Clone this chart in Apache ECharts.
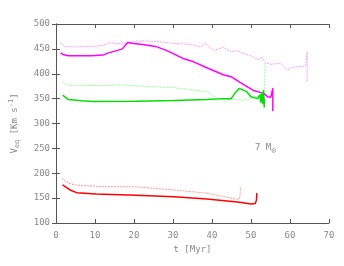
<!DOCTYPE html>
<html><head><meta charset="utf-8">
<script src="https://cdn.jsdelivr.net/npm/echarts@6/dist/echarts.min.js"></script>
<style>html,body{margin:0;padding:0;background:#fff}#c{width:344px;height:266px}</style>
</head><body><div id="c"></div>
<script>
var xTicks = [0,10,20,30,40,50,60,70];
var yTicks = [100,150,200,250,300,350,400,450,500];

var magSolid = [[1.2,442],[2,438],[3.2,436],[6,436],[9,436],[12,437.5],[13.5,442],[15.8,447],[17,450],[18.4,463],[20,461],[22.2,459],[25.5,455],[28,448],[30.2,440],[32.8,430],[35.3,424],[38.7,412],[42.9,398],[44.9,394],[47.1,383],[50.5,367],[53.4,360],[54.2,354],[55.1,353],[55.6,355],[55.6,371],[55.6,325]];
var magDashed = [[1,462],[2.3,455],[5,454],[9.6,455],[12,457],[13.7,462],[17.1,460],[20.5,465.5],[23,466],[27,464],[30.2,461],[33,460],[35,458],[37,454],[38.3,461],[40.4,447],[42.9,453],[45,444],[46,447],[48,441],[50.5,434],[52.1,428],[52.9,434],[53.6,422],[55.1,419],[57.6,421],[59.4,407],[60.6,413],[62,414],[64,416],[64.4,444],[64.4,384]];
var grnSolid = [[1.7,357],[3.2,348],[6.6,345.5],[9.6,344],[20.5,344.5],[30.2,346],[38.7,348],[42.9,350],[44.9,350],[46.2,364],[47,370.5],[48.9,364],[50,353.6],[51.7,350],[52.3,358],[52.5,342],[52.8,362],[53,340],[53.2,367],[53.4,332],[53.4,350]];
var grnDashed = [[1.5,384],[3.2,377],[12,376],[16.2,377.5],[22.2,375],[30.2,372],[35,368],[38.7,364],[41.2,351],[45.4,348],[48,347],[49.7,350],[51.8,354],[52.8,341],[53.3,351],[53.5,390],[53.7,424]];
var redSolid = [[1.7,176.5],[3.6,166.4],[5.3,161],[10.3,158.4],[20.5,155.8],[30.2,153],[38.7,148.4],[47.1,141.7],[50,138],[51.1,139],[51.4,146],[51.5,160]];
var redDashed = [[1.5,190],[3.2,180],[5.3,176],[12,173.3],[20.5,172.7],[30.2,166.4],[38.7,160],[46.3,148],[46.9,147.5],[47.2,155],[47.3,172.5]];

var font = 'DejaVu Sans Mono';
var txt = '#888';
var axLine = {show:true, lineStyle:{color:'#555', width:1}};
var tick = {show:true, inside:true, length:4, lineStyle:{color:'#555'}};

function ser(data, color, w, dashed){
  return {type:'line', data:data, showSymbol:false, symbol:'none', animation:false,
    xAxisIndex:0, yAxisIndex:0,
    lineStyle:{color:color, width:w, type: dashed ? [2,1] : 'solid'}};
}

var chart = echarts.init(document.getElementById('c'));
chart.setOption({
  animation:false,
  grid:{left:52, right:15, top:24, bottom:43, containLabel:false},
  xAxis:[
    {type:'value', min:0, max:70, interval:10, axisLine:axLine, axisTick:tick, splitLine:{show:false},
     axisLabel:{color:txt, fontFamily:font, fontSize:9, margin:8, formatter:function(v){return xTicks.indexOf(v)>=0?String(v):'';}},
     name:'t [Myr]', nameLocation:'middle', nameGap:21, nameTextStyle:{color:txt, fontFamily:font, fontSize:9}},
    {type:'value', position:'top', min:0, max:70, interval:10, axisLine:axLine, axisTick:tick, axisLabel:{show:false}, splitLine:{show:false}}
  ],
  yAxis:[
    {type:'value', min:100, max:500, interval:50, axisLine:axLine, axisTick:tick, splitLine:{show:false},
     axisLabel:{color:txt, fontFamily:font, fontSize:9, margin:6, formatter:function(v){return yTicks.indexOf(v)>=0?String(v):'';}},
     name:'V{sub|eq} [Km s{sup|-1}]', nameLocation:'middle', nameGap:35, nameRotate:90,
     nameTextStyle:{color:txt, fontFamily:font, fontSize:9,
       rich:{sub:{fontSize:7, fontFamily:font, color:txt, padding:[6,0,0,0]},
             sup:{fontSize:7, fontFamily:font, color:txt, padding:[0,0,6,0]}}}},
    {type:'value', position:'right', min:100, max:500, interval:50, axisLine:axLine, axisTick:tick, axisLabel:{show:false}, splitLine:{show:false}}
  ],
  graphic:[{type:'text', left:255, top:143, style:{text:'7 M{s|⊙}', fill:txt, font:'9px "DejaVu Sans Mono"',
    rich:{s:{fontSize:8, fontFamily:font, fill:txt, padding:[6,0,0,0]}}}}],
  series:[
    ser(magDashed,'#ff99ff',1,true),
    ser(grnDashed,'#99ff99',1,true),
    ser(redDashed,'#ff9999',1,true),
    ser(magSolid,'#ff00ff',1.5,false),
    ser(grnSolid,'#00e000',1.5,false),
    ser(redSolid,'#ff0000',1.5,false)
  ]
});
</script></body></html>
